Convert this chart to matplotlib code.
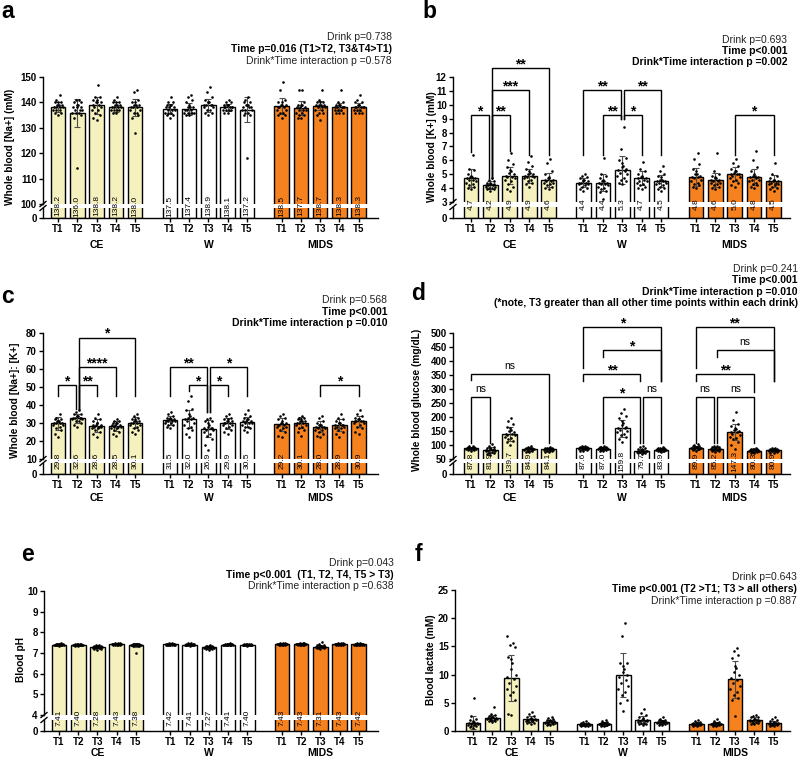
import matplotlib
matplotlib.use('Agg')

import numpy as np
import matplotlib.pyplot as plt
from matplotlib import transforms
from matplotlib.lines import Line2D

plt.rcParams['font.family'] = ['Liberation Sans', 'DejaVu Sans']

W_PX, H_PX = 800, 759
drinks = ['CE', 'W', 'MIDS']
times = ['T1', 'T2', 'T3', 'T4', 'T5']
bar_colors = ['#F4F1BE', '#FFFFFF', '#F5821F']

# ---------------- data (CE T1..T5, W T1..T5, MIDS T1..T5) ----------------
a_means = [138.2, 136.0, 138.8, 138.2, 138.0, 137.5, 137.4, 138.9, 138.1, 137.2, 138.5, 137.7, 138.7, 138.3, 138.3]
a_sd = [2.0, 5.5, 3.2, 2.0, 3.5, 2.0, 2.5, 2.5, 1.3, 5.0, 3.2, 2.7, 1.8, 1.5, 1.5]
a_pts = [
    [143, 141, 140, 140, 139, 139, 138, 138, 138, 138, 137, 137, 137, 136, 136, 135, 139, 140],
    [141, 141, 140, 139, 139, 138, 138, 137, 137, 137, 136, 136, 136, 135, 134, 140, 114, 138],
    [147, 142, 142, 141, 141, 140, 140, 139, 139, 138, 138, 137, 137, 136, 135, 134, 133, 140],
    [142, 141, 140, 140, 139, 139, 138, 138, 138, 137, 137, 137, 136, 136, 139, 138, 140, 137],
    [145, 144, 141, 140, 140, 139, 139, 138, 138, 138, 137, 137, 136, 136, 135, 134, 128, 139],
    [142, 140, 140, 139, 139, 138, 138, 137, 137, 137, 136, 136, 136, 135, 135, 134, 138, 139],
    [143, 142, 141, 140, 139, 138, 138, 137, 137, 136, 136, 136, 136, 136, 135, 135, 137, 138],
    [146, 144, 142, 141, 140, 140, 139, 139, 139, 138, 138, 137, 137, 136, 136, 135, 139, 140],
    [141, 140, 140, 139, 139, 139, 138, 138, 138, 138, 137, 137, 137, 137, 136, 136, 138, 139],
    [142, 141, 140, 139, 139, 138, 138, 138, 137, 137, 137, 136, 136, 135, 135, 118, 139, 140],
    [148, 145, 141, 140, 140, 139, 139, 138, 138, 137, 137, 136, 136, 135, 135, 134, 139, 138],
    [145, 145, 140, 139, 139, 138, 138, 137, 137, 137, 136, 136, 135, 135, 134, 134, 138, 139],
    [145, 141, 140, 140, 139, 139, 139, 138, 138, 138, 137, 137, 136, 136, 135, 133, 139, 140],
    [145, 140, 140, 139, 139, 138, 138, 138, 138, 137, 137, 137, 136, 136, 136, 139, 138, 139],
    [143, 141, 140, 140, 139, 139, 138, 138, 138, 137, 137, 137, 136, 136, 136, 139, 138, 138],
]

b_means = [4.7, 4.2, 4.9, 4.9, 4.6, 4.4, 4.4, 5.3, 4.7, 4.5, 4.8, 4.6, 5.0, 4.8, 4.5]
b_sd = [0.65, 0.3, 0.6, 0.5, 0.5, 0.35, 0.6, 1.0, 0.5, 0.45, 0.65, 0.5, 0.5, 0.55, 0.45]
b_pts = [
    [6.4, 5.4, 5.3, 5.0, 4.9, 4.8, 4.7, 4.6, 4.5, 4.4, 4.3, 4.2, 4.1, 4.0, 3.9, 4.6, 4.8, 4.7],
    [4.7, 4.6, 4.5, 4.4, 4.3, 4.3, 4.2, 4.2, 4.1, 4.1, 4.0, 4.0, 3.9, 3.9, 3.8, 4.2, 4.3, 4.4],
    [6.5, 6.0, 5.7, 5.5, 5.3, 5.1, 5.0, 4.9, 4.8, 4.7, 4.6, 4.5, 4.3, 4.1, 3.9, 3.8, 5.2, 4.8],
    [6.3, 5.9, 5.6, 5.4, 5.2, 5.0, 5.0, 4.9, 4.8, 4.7, 4.6, 4.5, 4.4, 4.3, 4.1, 4.9, 5.1, 4.8],
    [6.1, 5.8, 5.2, 5.0, 4.8, 4.7, 4.6, 4.5, 4.5, 4.4, 4.3, 4.2, 4.1, 4.0, 3.9, 4.6, 4.7, 4.4],
    [5.0, 4.9, 4.8, 4.7, 4.6, 4.5, 4.5, 4.4, 4.4, 4.3, 4.3, 4.2, 4.1, 4.0, 3.9, 3.8, 4.4, 4.6],
    [6.2, 5.0, 4.9, 4.7, 4.6, 4.5, 4.4, 4.4, 4.3, 4.2, 4.1, 4.0, 3.9, 3.8, 3.7, 3.2, 4.5, 4.3],
    [8.4, 6.8, 6.2, 6.0, 5.8, 5.6, 5.4, 5.2, 5.1, 5.0, 4.9, 4.7, 4.6, 4.5, 4.4, 4.3, 5.3, 5.5],
    [5.9, 5.4, 5.2, 5.0, 4.9, 4.8, 4.7, 4.6, 4.5, 4.4, 4.3, 4.2, 4.1, 4.0, 3.9, 4.7, 4.8, 4.5],
    [5.6, 5.2, 5.0, 4.9, 4.8, 4.6, 4.5, 4.5, 4.4, 4.3, 4.2, 4.1, 4.0, 3.9, 3.8, 4.5, 4.6, 4.4],
    [6.5, 6.1, 5.7, 5.4, 5.2, 5.0, 4.9, 4.8, 4.7, 4.6, 4.5, 4.4, 4.3, 4.2, 4.1, 4.0, 4.8, 5.0],
    [6.5, 5.2, 5.0, 4.9, 4.8, 4.7, 4.6, 4.5, 4.5, 4.4, 4.3, 4.2, 4.1, 4.0, 3.9, 4.6, 4.7, 4.4],
    [6.1, 5.8, 5.6, 5.4, 5.2, 5.1, 5.0, 5.0, 4.9, 4.8, 4.7, 4.6, 4.5, 4.4, 4.2, 4.1, 5.0, 5.2],
    [6.7, 6.0, 5.5, 5.2, 5.0, 4.9, 4.8, 4.7, 4.6, 4.5, 4.4, 4.3, 4.2, 4.1, 4.0, 4.8, 4.9, 4.6],
    [5.8, 5.0, 4.9, 4.7, 4.6, 4.5, 4.4, 4.3, 4.2, 4.1, 4.0, 3.9, 3.8, 4.5, 4.4, 4.6, 4.3, 4.5],
]

c_means = [29.8, 32.6, 28.6, 28.5, 30.1, 31.5, 32.0, 26.9, 29.9, 30.5, 29.2, 30.1, 28.0, 28.9, 30.9]
c_sd = [3.5, 2.5, 3.5, 2.8, 3.0, 2.5, 5.0, 4.5, 3.0, 3.0, 3.5, 3.0, 3.0, 3.2, 3.0]
c_pts = [
    [35, 33, 32, 32, 31, 31, 30, 30, 30, 29, 29, 28, 27, 26, 24, 22, 31, 30],
    [37, 36, 35, 35, 34, 34, 33, 33, 33, 32, 32, 31, 31, 30, 29, 28, 33, 34],
    [35, 33, 32, 31, 30, 30, 29, 29, 28, 28, 27, 27, 26, 25, 24, 22, 29, 28],
    [32, 31, 31, 30, 30, 29, 29, 28, 28, 28, 27, 27, 26, 25, 24, 23, 29, 30],
    [35, 34, 33, 32, 32, 31, 31, 30, 30, 29, 29, 28, 27, 26, 25, 24, 30, 31],
    [36, 35, 34, 33, 33, 32, 32, 31, 31, 31, 30, 30, 29, 29, 28, 27, 32, 31],
    [45, 42, 38, 37, 35, 34, 33, 32, 31, 30, 29, 28, 27, 26, 24, 22, 32, 33],
    [33, 32, 31, 31, 30, 29, 28, 27, 27, 26, 26, 25, 24, 23, 21, 18, 15, 27],
    [35, 34, 33, 32, 32, 31, 31, 30, 30, 29, 29, 28, 27, 26, 25, 24, 30, 31],
    [37, 35, 34, 33, 32, 32, 31, 31, 30, 30, 29, 28, 28, 27, 26, 25, 31, 30],
    [35, 34, 33, 32, 31, 30, 30, 29, 29, 28, 28, 27, 26, 25, 23, 22, 29, 30],
    [34, 33, 33, 32, 32, 31, 31, 30, 30, 29, 29, 28, 27, 26, 25, 23, 30, 31],
    [34, 33, 31, 30, 29, 29, 28, 28, 27, 27, 26, 26, 25, 24, 23, 22, 28, 29],
    [35, 33, 32, 31, 30, 30, 29, 29, 28, 28, 27, 27, 26, 25, 24, 22, 29, 30],
    [37, 35, 34, 33, 32, 32, 31, 31, 31, 30, 30, 29, 28, 27, 25, 24, 31, 32],
]

d_means = [87.8, 81.9, 139.7, 84.9, 84.1, 87.6, 87.0, 159.8, 79.7, 83.9, 89.9, 85.2, 147.3, 80.3, 80.9]
d_sd = [5, 10, 25, 6, 5, 6, 6, 30, 7, 5, 7, 7, 28, 5, 6]
d_pts = [
    [98, 95, 93, 92, 91, 90, 89, 88, 88, 87, 86, 85, 84, 83, 82, 80, 88, 89],
    [104, 98, 94, 90, 88, 86, 84, 82, 80, 79, 77, 75, 73, 71, 69, 65, 82, 85],
    [195, 185, 175, 165, 160, 155, 150, 145, 140, 137, 134, 130, 125, 120, 115, 110, 100, 140],
    [95, 93, 91, 90, 89, 88, 87, 86, 85, 84, 83, 82, 80, 78, 76, 74, 85, 86],
    [92, 91, 90, 89, 88, 87, 86, 85, 84, 83, 82, 81, 80, 78, 76, 75, 84, 85],
    [98, 96, 94, 93, 92, 91, 90, 89, 88, 87, 86, 85, 84, 82, 80, 78, 88, 89],
    [96, 94, 93, 92, 91, 90, 89, 88, 87, 86, 85, 84, 83, 82, 80, 78, 87, 88],
    [228, 215, 205, 195, 185, 178, 170, 165, 160, 155, 150, 145, 140, 135, 128, 120, 110, 160],
    [98, 92, 88, 86, 84, 82, 80, 79, 78, 77, 76, 75, 74, 72, 70, 68, 80, 81],
    [92, 90, 89, 88, 87, 86, 85, 84, 83, 82, 81, 80, 79, 78, 77, 75, 84, 85],
    [102, 99, 97, 95, 94, 93, 92, 91, 90, 89, 88, 87, 86, 84, 82, 79, 90, 91],
    [96, 95, 93, 92, 90, 89, 88, 87, 86, 85, 84, 83, 82, 80, 78, 75, 85, 86],
    [218, 190, 175, 168, 162, 157, 152, 148, 145, 140, 135, 130, 125, 120, 110, 100, 85, 150],
    [88, 87, 86, 85, 84, 83, 82, 81, 80, 79, 78, 77, 76, 75, 73, 72, 80, 81],
    [90, 88, 87, 86, 85, 84, 83, 82, 81, 80, 79, 78, 77, 75, 73, 70, 81, 82],
]

e_means = [7.41, 7.40, 7.28, 7.43, 7.38, 7.42, 7.41, 7.27, 7.41, 7.40, 7.43, 7.43, 7.31, 7.43, 7.42]
e_sd = [0.03, 0.03, 0.06, 0.03, 0.08, 0.03, 0.03, 0.06, 0.03, 0.03, 0.03, 0.03, 0.07, 0.03, 0.03]
e_pts = [
    [7.46, 7.45, 7.44, 7.43, 7.43, 7.42, 7.42, 7.41, 7.41, 7.40, 7.40, 7.39, 7.39, 7.38, 7.37, 7.36, 7.42, 7.41],
    [7.45, 7.44, 7.43, 7.42, 7.42, 7.41, 7.41, 7.40, 7.40, 7.39, 7.39, 7.38, 7.38, 7.37, 7.36, 7.35, 7.40, 7.41],
    [7.40, 7.38, 7.36, 7.34, 7.33, 7.32, 7.31, 7.30, 7.29, 7.28, 7.27, 7.26, 7.25, 7.23, 7.21, 7.18, 7.15, 7.28],
    [7.48, 7.47, 7.46, 7.45, 7.44, 7.44, 7.43, 7.43, 7.42, 7.42, 7.41, 7.41, 7.40, 7.39, 7.38, 7.43, 7.44, 7.42],
    [7.45, 7.44, 7.43, 7.42, 7.42, 7.41, 7.41, 7.40, 7.40, 7.39, 7.39, 7.38, 7.37, 7.36, 7.35, 7.00, 7.41, 7.40],
    [7.47, 7.46, 7.45, 7.44, 7.43, 7.43, 7.42, 7.42, 7.41, 7.41, 7.40, 7.40, 7.39, 7.38, 7.37, 7.42, 7.43, 7.41],
    [7.50, 7.46, 7.45, 7.44, 7.43, 7.42, 7.42, 7.41, 7.41, 7.40, 7.40, 7.39, 7.39, 7.38, 7.36, 7.41, 7.42, 7.40],
    [7.38, 7.36, 7.34, 7.33, 7.32, 7.31, 7.30, 7.29, 7.28, 7.27, 7.26, 7.25, 7.24, 7.22, 7.20, 7.17, 7.14, 7.27],
    [7.46, 7.45, 7.44, 7.43, 7.43, 7.42, 7.42, 7.41, 7.41, 7.40, 7.40, 7.39, 7.39, 7.38, 7.37, 7.41, 7.42, 7.40],
    [7.45, 7.44, 7.43, 7.42, 7.42, 7.41, 7.41, 7.40, 7.40, 7.39, 7.39, 7.38, 7.38, 7.37, 7.36, 7.40, 7.41, 7.39],
    [7.48, 7.47, 7.46, 7.45, 7.44, 7.44, 7.43, 7.43, 7.42, 7.42, 7.41, 7.41, 7.40, 7.39, 7.38, 7.43, 7.44, 7.42],
    [7.48, 7.47, 7.46, 7.45, 7.44, 7.44, 7.43, 7.43, 7.42, 7.42, 7.41, 7.41, 7.40, 7.39, 7.38, 7.43, 7.44, 7.42],
    [7.55, 7.45, 7.40, 7.38, 7.36, 7.34, 7.33, 7.32, 7.31, 7.30, 7.29, 7.28, 7.27, 7.26, 7.24, 7.22, 7.20, 7.31],
    [7.48, 7.47, 7.46, 7.45, 7.44, 7.44, 7.43, 7.43, 7.42, 7.42, 7.41, 7.41, 7.40, 7.39, 7.38, 7.43, 7.44, 7.42],
    [7.47, 7.46, 7.45, 7.44, 7.43, 7.43, 7.42, 7.42, 7.41, 7.41, 7.40, 7.40, 7.39, 7.38, 7.37, 7.42, 7.43, 7.41],
]

f_means = [1.5, 2.3, 9.4, 2.1, 1.6, 1.2, 1.3, 9.9, 1.9, 1.6, 1.3, 1.3, 9.2, 1.9, 1.4]
f_sd = [1.1, 0.5, 4.0, 0.5, 0.4, 0.3, 0.35, 3.9, 0.7, 0.4, 0.3, 0.3, 3.3, 0.5, 0.4]
f_pts = [
    [5.9, 2.6, 2.2, 2.0, 1.8, 1.6, 1.5, 1.4, 1.3, 1.2, 1.1, 1.0, 0.9, 0.8, 0.7, 0.6, 1.3, 1.5],
    [4.3, 3.0, 2.8, 2.6, 2.5, 2.4, 2.3, 2.3, 2.2, 2.1, 2.0, 1.9, 1.8, 1.7, 1.6, 2.2, 2.4, 2.1],
    [16.9, 15.6, 15.3, 14.9, 13.2, 12.7, 12.0, 11.0, 10.0, 9.5, 9.2, 8.5, 8.0, 7.5, 6.9, 6.4, 5.5, 3.1, 2.9],
    [3.3, 3.0, 2.7, 2.5, 2.3, 2.2, 2.1, 2.0, 1.9, 1.8, 1.7, 1.6, 1.5, 1.4, 1.3, 2.0, 2.2, 1.9],
    [2.4, 2.3, 2.1, 2.0, 1.9, 1.8, 1.7, 1.6, 1.5, 1.5, 1.4, 1.3, 1.2, 1.1, 1.0, 1.6, 1.7, 1.4],
    [1.8, 1.6, 1.5, 1.4, 1.3, 1.3, 1.2, 1.2, 1.1, 1.1, 1.0, 1.0, 0.9, 0.9, 0.8, 1.2, 1.3, 1.1],
    [2.0, 1.8, 1.6, 1.5, 1.4, 1.4, 1.3, 1.3, 1.2, 1.2, 1.1, 1.0, 1.0, 0.9, 0.8, 1.3, 1.4, 1.2],
    [19.2, 16.9, 12.1, 12.0, 11.5, 11.0, 10.5, 10.0, 9.5, 9.0, 8.5, 8.0, 7.5, 7.0, 6.4, 5.5, 4.9, 3.6],
    [3.9, 3.2, 2.8, 2.5, 2.3, 2.1, 2.0, 1.9, 1.8, 1.7, 1.6, 1.5, 1.4, 1.3, 1.2, 1.1, 2.0, 1.8],
    [2.5, 2.2, 2.0, 1.9, 1.8, 1.7, 1.6, 1.6, 1.5, 1.4, 1.4, 1.3, 1.2, 1.1, 1.0, 1.6, 1.7, 1.5],
    [2.0, 1.8, 1.6, 1.5, 1.4, 1.4, 1.3, 1.3, 1.2, 1.2, 1.1, 1.0, 1.0, 0.9, 0.8, 1.3, 1.4, 1.2],
    [2.1, 1.8, 1.6, 1.5, 1.4, 1.4, 1.3, 1.3, 1.2, 1.2, 1.1, 1.0, 1.0, 0.9, 0.8, 1.3, 1.2, 1.4],
    [14.8, 14.1, 13.5, 12.9, 11.6, 11.2, 10.5, 10.0, 9.4, 9.0, 8.5, 8.0, 7.5, 6.9, 6.4, 5.8, 5.5, 2.6],
    [2.8, 2.6, 2.5, 2.4, 2.2, 2.1, 2.0, 1.9, 1.8, 1.7, 1.6, 1.5, 1.4, 1.3, 1.2, 1.9, 2.0, 1.8],
    [2.4, 2.1, 1.9, 1.8, 1.6, 1.5, 1.4, 1.4, 1.3, 1.2, 1.1, 1.0, 0.9, 0.8, 1.4, 1.5, 1.3, 1.2],
]

# significance brackets: (drink, time1, time2, y, label, leg bottom 1, leg bottom 2)
b_brackets = [
    (0, 0, 1, 9.25, '*', 6.6, 4.7), (0, 1, 2, 9.25, '**', 4.7, 6.7),
    (0, 1, 3, 11.06, '***', 4.7, 6.4), (0, 1, 4, 12.65, '**', 4.7, 6.4),
    (1, 0, 2, 11.06, '**', 6.4, 9.0), (1, 2, 4, 11.06, '**', 9.0, 6.4),
    (1, 1, 2, 9.25, '**', 6.4, 9.0), (1, 2, 3, 9.25, '*', 9.0, 6.4),
    (2, 2, 4, 9.25, '*', 6.4, 6.4),
]
c_brackets = [
    (0, 0, 1, 51, '*', 45, 38), (0, 1, 2, 51, '**', 38, 45),
    (0, 1, 3, 61, '****', 38, 45), (0, 1, 4, 77.4, '*', 38, 45),
    (1, 0, 2, 61, '**', 45, 36), (1, 2, 4, 61, '*', 36, 45),
    (1, 1, 2, 51, '*', 48, 36), (1, 2, 3, 51, '*', 36, 45),
    (2, 2, 4, 51, '*', 45, 45),
]
d_brackets = [
    (0, 0, 1, 270, 'ns', 106, 106), (0, 0, 4, 353, 'ns', 333, 106),
    (1, 0, 4, 521, '*', 375, 327), (1, 1, 4, 438, '*', 414, 327),
    (1, 0, 3, 353, '**', 327, 327), (1, 1, 3, 270, '*', 106, 106),
    (1, 3, 4, 270, 'ns', 106, 106),
    (2, 0, 4, 521, '**', 375, 327), (2, 1, 4, 438, 'ns', 414, 327),
    (2, 0, 3, 353, '**', 327, 291), (2, 0, 1, 270, 'ns', 106, 106),
    (2, 1, 3, 270, 'ns', 106, 106),
]

stats_a = ['Drink p=0.738', 'Time p=0.016 (T1>T2, T3&T4>T1)', 'Drink*Time interaction p =0.578']
stats_b = ['Drink p=0.693', 'Time p<0.001', 'Drink*Time interaction p =0.002']
stats_c = ['Drink p=0.568', 'Time p<0.001', 'Drink*Time interaction p =0.010']
stats_d = ['Drink p=0.241', 'Time p<0.001', 'Drink*Time interaction p =0.010',
           '(*note, T3 greater than all other time points within each drink)']
stats_e = ['Drink p=0.043', 'Time p<0.001  (T1, T2, T4, T5 > T3)', 'Drink*Time interaction p =0.638']
stats_f = ['Drink p=0.643', 'Time p<0.001 (T2 >T1; T3 > all others)', 'Drink*Time interaction p =0.887']

# ---------------- drawing ----------------
GROUP_STEP = 5.8
xpos = np.array([g * GROUP_STEP + t for g in range(3) for t in range(5)])
jit = [0.0, -0.17, 0.17, -0.08, 0.08, -0.25, 0.25, -0.12, 0.12, -0.21, 0.21, -0.04, 0.04]

fig = plt.figure(figsize=(8, 7.59), dpi=100)


def box(x0, y0, x1, y1):
    return [x0 / W_PX, 1 - y1 / H_PX, (x1 - x0) / W_PX, (y1 - y0) / H_PX]


def style_ax(ax):
    for s in ['top', 'right']:
        ax.spines[s].set_visible(False)
    for s in ['left', 'bottom']:
        ax.spines[s].set_linewidth(1.0)
    ax.tick_params(length=3, width=1, labelsize=7, pad=1.5)
    for lab in ax.get_yticklabels():
        lab.set_fontweight('bold')


def draw_bars(ax, means, sds, pts, full=True):
    for i, x in enumerate(xpos):
        ax.bar(x, means[i], width=0.76, color=bar_colors[i // 5], edgecolor='black',
               linewidth=1.0, zorder=2)
        if not full:
            continue
        ax.errorbar(x, means[i], yerr=sds[i], color='#4d4d4d', lw=0.8, capsize=2.5,
                    capthick=0.8, zorder=3)
        vals = np.array(pts[i], dtype=float)
        order = np.argsort(vals)
        off = np.zeros(len(vals))
        for k, idx in enumerate(order):
            off[idx] = jit[k % len(jit)]
        ax.scatter(x + off, vals, s=3.5, color='black', linewidths=0, zorder=4)


def x_labels(ax, group_off):
    ax.set_xticks(xpos)
    ax.set_xticklabels(times * 3, fontweight='bold', fontsize=7)
    for g, name in enumerate(drinks):
        ax.annotate(name, xy=(g * GROUP_STEP + 2, 0), xycoords=('data', 'axes fraction'),
                    xytext=(0, -group_off), textcoords='offset pixels', ha='center',
                    va='center', fontsize=7.5, fontweight='bold')


def brackets(ax, spec):
    for (g, t1, t2, y, lab, b1, b2) in spec:
        same = [s for s in spec if s[0] == g]
        x1 = g * GROUP_STEP + t1 + (0.07 if any(s[2] == t1 for s in same) else 0)
        x2 = g * GROUP_STEP + t2 - (0.07 if any(s[1] == t2 for s in same) else 0)
        ax.plot([x1, x1, x2, x2], [b1, y, y, b2], color='black', lw=1.0,
                clip_on=False, zorder=6, solid_joinstyle='miter')
        xm = (x1 + x2) / 2
        if lab == 'ns':
            ax.annotate('ns', xy=(xm, y), xytext=(0, 3), textcoords='offset pixels',
                        ha='center', va='bottom', fontsize=7.5, annotation_clip=False)
        else:
            ax.annotate(lab, xy=(xm, y), xytext=(0, 0), textcoords='offset pixels',
                        ha='center', va='baseline', fontsize=10, fontweight='bold',
                        annotation_clip=False)


def broken_panel(x0, x1, y_top, y_brk, y_lo, y_zero, xlim, brk, top, yticks,
                 means, sds, pts, fmt, group_off):
    up = fig.add_axes(box(x0, y_top, x1, y_brk))
    lo = fig.add_axes(box(x0, y_lo, x1, y_zero))
    draw_bars(up, means, sds, pts)
    draw_bars(lo, means, sds, pts, full=False)
    for ax in (up, lo):
        ax.set_xlim(xlim)
        ax.patch.set_alpha(0)
    up.set_ylim(brk, top)
    up.set_yticks(yticks)
    lo.set_ylim(0, brk)
    lo.set_yticks([0])
    up.spines['bottom'].set_visible(False)
    up.tick_params(axis='x', bottom=False, labelbottom=False)
    style_ax(up)
    style_ax(lo)
    x_labels(lo, group_off)
    # mean values written across the break
    yc = 1 - ((y_brk + y_lo) / 2) / H_PX
    tr = transforms.blended_transform_factory(lo.transData, fig.transFigure)
    for i, x in enumerate(xpos):
        fig.text(x, yc, fmt.format(means[i]), transform=tr, rotation=90, ha='center',
                 va='center', fontsize=6, zorder=10)
    # axis break marks
    for yy in (y_brk, y_lo):
        fig.add_artist(Line2D([(x0 - 3) / W_PX, (x0 + 3) / W_PX],
                              [1 - (yy + 2.5) / H_PX, 1 - (yy - 2.5) / H_PX],
                              color='black', lw=1.0))
    return up, lo


def stats_text(x_right, ys, lines, bold):
    for y, line, b in zip(ys, lines, bold):
        fig.text(x_right / W_PX, 1 - y / H_PX, line, ha='right', va='center', fontsize=7.5,
                 fontweight='bold' if b else 'normal', color='#222222' if not b else 'black')


def ylab(x, y, text):
    fig.text(x / W_PX, 1 - y / H_PX, text, rotation=90, ha='center', va='center',
             fontsize=7.3, fontweight='bold')


def letter(x, y, s):
    fig.text(x / W_PX, 1 - y / H_PX, s, ha='left', va='baseline', fontsize=16.5,
             fontweight='bold')


xl_left = (-0.78, 16.6)
xl_right = (-0.93, 16.45)

# a
broken_panel(43, 378, 77, 204, 208, 218, xl_left, 100, 150, [100, 110, 120, 130, 140, 150],
             a_means, a_sd, a_pts, '{:.1f}', 27)
ylab(10, 147, 'Whole blood [Na+] (mM)')
stats_text(392, [37, 49, 61], stats_a, [False, True, False])
letter(1, 18, 'a')

# b
up_b, _ = broken_panel(453, 790, 77, 202, 207, 218, xl_right, 3, 12, list(range(3, 13)),
                       b_means, b_sd, b_pts, '{:.1f}', 27)
brackets(up_b, b_brackets)
ylab(432, 147, 'Whole blood [K+] (mM)')
stats_text(787, [40, 51, 62], stats_b, [False, True, True])
letter(422, 18, 'b')

# c
up_c, _ = broken_panel(43, 378, 333, 459, 463, 474, xl_left, 10, 80, list(range(10, 81, 10)),
                       c_means, c_sd, c_pts, '{:.1f}', 24)
brackets(up_c, c_brackets)
ylab(15, 400, 'Whole blood [Na+]: [K+]')
stats_text(387, [300, 312, 323], stats_c, [False, True, True])
letter(1, 303, 'c')

# d
up_d, _ = broken_panel(453, 790, 333, 459, 463, 474, xl_right, 50, 500,
                       list(range(50, 501, 50)), d_means, d_sd, d_pts, '{:.1f}', 24)
brackets(up_d, d_brackets)
ylab(417, 400, 'Whole blood glucose (mg/dL)')
stats_text(798, [269, 280, 292, 303], stats_d, [False, True, True, True])
letter(411, 300, 'd')

# e
broken_panel(44, 378, 591, 715, 720, 731, xl_left, 4, 10, list(range(4, 11)),
             e_means, e_sd, e_pts, '{:.2f}', 22)
ylab(21, 660, 'Blood pH')
stats_text(394, [563, 575, 586], stats_e, [False, True, False])
letter(21, 561, 'e')

# f
ax_f = fig.add_axes(box(455, 590, 790, 731))
draw_bars(ax_f, f_means, f_sd, f_pts)
ax_f.set_xlim(xl_right)
ax_f.set_ylim(0, 25)
ax_f.set_yticks([0, 5, 10, 15, 20, 25])
ax_f.patch.set_alpha(0)
style_ax(ax_f)
x_labels(ax_f, 22)
ylab(431, 660, 'Blood lactate (mM)')
stats_text(797, [577, 589, 601], stats_f, [False, True, False])
letter(415, 561, 'f')

fig.savefig('out.png', dpi=100)
